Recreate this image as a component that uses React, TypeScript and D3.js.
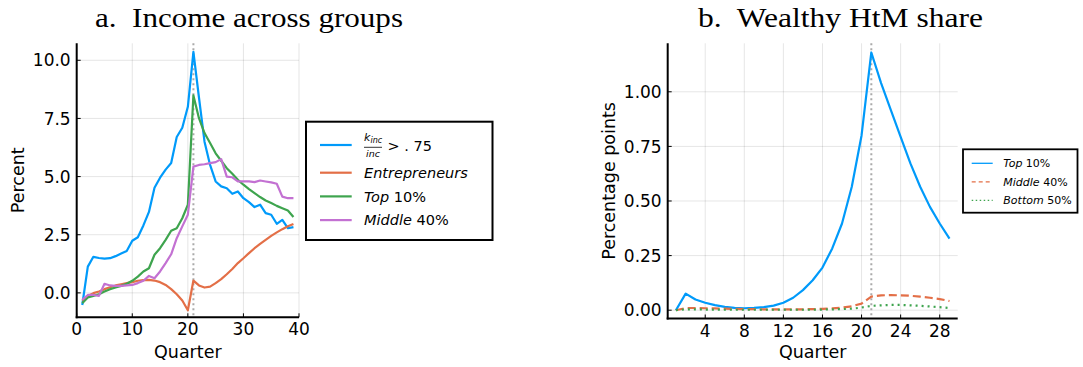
import React from "react";
import * as d3 from "d3";

// Panel a: income response by group (percent), quarters 1..39
const incomeQuarters = d3.range(1, 40);
const kincShare = [-0.52, 1.13, 1.55, 1.5, 1.47, 1.49, 1.58, 1.69, 1.8, 2.24, 2.39, 2.9, 3.48, 4.52, 4.95, 5.3, 5.58, 6.7, 7.1, 8.0, 10.36, 8.4, 6.5, 5.5, 4.79, 4.58, 4.5, 4.26, 4.36, 4.07, 3.9, 3.69, 3.79, 3.43, 3.36, 2.97, 3.14, 2.78, 2.83];
const entrepreneurs = [-0.33, -0.13, -0.01, 0.06, 0.16, 0.24, 0.32, 0.37, 0.42, 0.46, 0.52, 0.55, 0.56, 0.53, 0.46, 0.34, 0.16, -0.06, -0.33, -0.75, 0.53, 0.32, 0.23, 0.27, 0.42, 0.59, 0.8, 1.03, 1.28, 1.49, 1.71, 1.92, 2.11, 2.28, 2.45, 2.6, 2.74, 2.86, 2.96];
const top10Income = [-0.44, -0.2, -0.13, -0.06, 0.06, 0.16, 0.23, 0.3, 0.39, 0.52, 0.7, 0.92, 1.06, 1.64, 1.92, 2.28, 2.67, 2.78, 3.21, 3.79, 8.49, 7.51, 6.87, 6.44, 6.0, 5.68, 5.36, 5.12, 4.86, 4.65, 4.46, 4.29, 4.12, 3.97, 3.86, 3.74, 3.64, 3.54, 3.26];
const middle40Income = [-0.3, -0.09, -0.09, -0.13, 0.39, 0.32, 0.3, 0.3, 0.32, 0.34, 0.42, 0.52, 0.73, 0.63, 0.92, 1.28, 1.66, 2.35, 2.86, 3.36, 5.43, 5.5, 5.53, 5.58, 5.62, 5.75, 5.0, 4.97, 4.79, 4.79, 4.79, 4.76, 4.83, 4.79, 4.75, 4.69, 4.14, 4.07, 4.07];
const incomeXTicks = [0, 10, 20, 30, 40];
const incomeYTicks = [0, 2.5, 5, 7.5, 10];

// Panel b: wealthy hand-to-mouth share (percentage points), quarters 1..29
const htmQuarters = d3.range(1, 30);
const htmTop10 = [0.0, 0.076, 0.049, 0.034, 0.023, 0.015, 0.011, 0.009, 0.011, 0.014, 0.021, 0.034, 0.057, 0.092, 0.137, 0.195, 0.283, 0.397, 0.565, 0.8, 1.18, 1.04, 0.916, 0.794, 0.672, 0.565, 0.473, 0.397, 0.328];
const htmMiddle40 = [0.0, 0.01, 0.01, 0.009, 0.008, 0.007, 0.006, 0.005, 0.005, 0.004, 0.004, 0.004, 0.004, 0.004, 0.005, 0.006, 0.008, 0.012, 0.018, 0.03, 0.062, 0.068, 0.069, 0.068, 0.066, 0.062, 0.057, 0.051, 0.042];
const htmBottom50 = [0.0, 0.004, 0.004, 0.003, 0.003, 0.002, 0.002, 0.002, 0.002, 0.002, 0.002, 0.002, 0.002, 0.002, 0.002, 0.003, 0.004, 0.005, 0.007, 0.012, 0.02, 0.022, 0.024, 0.024, 0.022, 0.02, 0.017, 0.014, 0.01];
const htmXTicks = [4, 8, 12, 16, 20, 24, 28];
const htmYTicks = [0, 0.25, 0.5, 0.75, 1.0];

const shockQuarter = 21;

const BLUE = "#009AFA";
const ORANGE = "#E36F47";
const GREEN = "#3EA44E";
const PURPLE = "#C371D2";

const SANS = "DejaVu Sans";
const SERIF = "Liberation Serif";

type Series = { values: number[]; color: string; dash?: string };

function Panel(props: {
  x: d3.ScaleLinear<number, number>;
  y: d3.ScaleLinear<number, number>;
  xs: number[];
  series: Series[];
  xTicks: number[];
  yTicks: number[];
  yFmt: (v: number) => string;
  yLabel: string;
  yLabelX: number;
}) {
  const { x, y, xs, series, xTicks, yTicks, yFmt, yLabel, yLabelX } = props;
  const [x0, x1] = x.range();
  const [y1, y0] = y.range();
  const line = d3
    .line<number>()
    .x((_, i) => x(xs[i]))
    .y((d) => y(d));
  return (
    <g>
      {xTicks.map((t) => (
        <line key={"gx" + t} x1={x(t)} x2={x(t)} y1={y0} y2={y1} stroke="#000" strokeOpacity={0.1} strokeWidth={1} />
      ))}
      {yTicks.map((t) => (
        <line key={"gy" + t} x1={x0} x2={x1} y1={y(t)} y2={y(t)} stroke="#000" strokeOpacity={0.1} strokeWidth={1} />
      ))}
      <line x1={x(shockQuarter)} x2={x(shockQuarter)} y1={y0} y2={y1} stroke="#aaaaaa" strokeWidth={2} strokeDasharray="2,3" />
      {series.map((s, i) => (
        <path key={i} d={line(s.values) || ""} fill="none" stroke={s.color} strokeWidth={2.2} strokeDasharray={s.dash} strokeLinejoin="round" />
      ))}
      <line x1={x0} x2={x0} y1={y0} y2={y1 + 1} stroke="#000" strokeWidth={2} />
      <line x1={x0 - 1} x2={x1} y1={y1} y2={y1} stroke="#000" strokeWidth={2} />
      {xTicks.map((t) => (
        <g key={"tx" + t}>
          <line x1={x(t)} x2={x(t)} y1={y1} y2={y1 - 4} stroke="#000" strokeWidth={1} />
          <text x={x(t)} y={y1 + 18} textAnchor="middle" fontFamily={SANS} fontSize={17}>
            {t}
          </text>
        </g>
      ))}
      {yTicks.map((t) => (
        <g key={"ty" + t}>
          <line x1={x0} x2={x0 + 4} y1={y(t)} y2={y(t)} stroke="#000" strokeWidth={1} />
          <text x={x0 - 6} y={y(t)} dy="0.36em" textAnchor="end" fontFamily={SANS} fontSize={17}>
            {yFmt(t)}
          </text>
        </g>
      ))}
      <text x={(x0 + x1) / 2} y={358} textAnchor="middle" fontFamily={SANS} fontSize={17.5}>
        Quarter
      </text>
      <text
        transform={`translate(${yLabelX},${(y0 + y1) / 2}) rotate(-90)`}
        textAnchor="middle"
        fontFamily={SANS}
        fontSize={17.5}
      >
        {yLabel}
      </text>
    </g>
  );
}

export default function App() {
  const xA = d3.scaleLinear().domain([0, 40]).range([76.7, 299]);
  const yA = d3.scaleLinear().domain([-1.05, 10.73]).range([317.3, 43.3]);
  const xB = d3.scaleLinear().domain([0.16, 29.84]).range([667.7, 957.7]);
  const yB = d3.scaleLinear().domain([-0.038, 1.222]).range([318.5, 43.3]);

  const fmt1 = d3.format(".1f");
  const fmt2 = d3.format(".2f");

  const legendA = [
    { color: ORANGE, italic: "Entrepreneurs", plain: "" },
    { color: GREEN, italic: "Top", plain: " 10%" },
    { color: PURPLE, italic: "Middle", plain: " 40%" },
  ];
  const legendB = [
    { color: BLUE, dash: undefined, italic: "Top", plain: " 10%" },
    { color: ORANGE, dash: "4,3", italic: "Middle", plain: " 40%" },
    { color: GREEN, dash: "1.5,2.5", italic: "Bottom", plain: " 50%" },
  ];

  return (
    <svg
      width={1083}
      height={367}
      style={{ position: "absolute", left: 0, top: 0, background: "#fff" }}
    >
      <rect x={0} y={0} width={1083} height={367} fill="#fff" />
      <text x={249} y={27} textAnchor="middle" fontFamily={SERIF} fontSize={27.5} textLength={308} lengthAdjust="spacingAndGlyphs">
        {"a.\u00A0 Income across groups"}
      </text>
      <text x={840.5} y={27} textAnchor="middle" fontFamily={SERIF} fontSize={27.5} textLength={285} lengthAdjust="spacingAndGlyphs">
        {"b.\u00A0 Wealthy HtM share"}
      </text>

      <Panel
        x={xA}
        y={yA}
        xs={incomeQuarters}
        series={[
          { values: kincShare, color: BLUE },
          { values: entrepreneurs, color: ORANGE },
          { values: top10Income, color: GREEN },
          { values: middle40Income, color: PURPLE },
        ]}
        xTicks={incomeXTicks}
        yTicks={incomeYTicks}
        yFmt={fmt1}
        yLabel="Percent"
        yLabelX={23.5}
      />
      <Panel
        x={xB}
        y={yB}
        xs={htmQuarters}
        series={[
          { values: htmTop10, color: BLUE },
          { values: htmMiddle40, color: ORANGE, dash: "8,4" },
          { values: htmBottom50, color: GREEN, dash: "2,4" },
        ]}
        xTicks={htmXTicks}
        yTicks={htmYTicks}
        yFmt={fmt2}
        yLabel="Percentage points"
        yLabelX={615}
      />

      {/* legend, panel a */}
      <rect x={306} y={121.7} width={186.5} height={118.3} fill="#fff" stroke="#000" strokeWidth={2} />
      <line x1={320} x2={351.7} y1={145} y2={145} stroke={BLUE} strokeWidth={2.2} />
      <g fontFamily={SANS} fontStyle="italic">
        <text x={364} y={140.5} fontSize={11}>k</text>
        <text x={370.5} y={142.5} fontSize={8}>inc</text>
        <line x1={364} x2={382} y1={147.3} y2={147.3} stroke="#000" strokeWidth={0.8} />
        <text x={366} y={156.5} fontSize={9.5}>inc</text>
      </g>
      <text x={387.5} y={150.7} fontFamily={SANS} fontSize={14.5}>
        {"> . 75"}
      </text>
      {legendA.map((e, i) => (
        <g key={"la" + i}>
          <line x1={320} x2={351.7} y1={172.7 + i * 23.7} y2={172.7 + i * 23.7} stroke={e.color} strokeWidth={2.2} />
          <text x={364} y={178.3 + i * 23.4} fontFamily={SANS} fontSize={14.5}>
            <tspan fontStyle="italic">{e.italic}</tspan>
            {e.plain}
          </text>
        </g>
      ))}

      {/* legend, panel b */}
      <rect x={963} y={149.3} width={114.5} height={63.4} fill="#fff" stroke="#000" strokeWidth={1.8} />
      {legendB.map((e, i) => (
        <g key={"lb" + i}>
          <line x1={971.7} x2={992.7} y1={163.3 + i * 18.5} y2={163.3 + i * 18.5} stroke={e.color} strokeWidth={1.3} strokeDasharray={e.dash} />
          <text x={1003.3} y={167 + i * 18.7} fontFamily={SANS} fontSize={11}>
            <tspan fontStyle="italic">{e.italic}</tspan>
            {e.plain}
          </text>
        </g>
      ))}
    </svg>
  );
}
